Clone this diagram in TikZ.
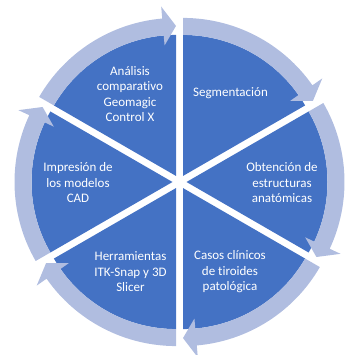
\documentclass[tikz,border=0pt]{standalone}
\usepackage{fontspec}
\setmainfont{Carlito}[Ligatures={NoCommon,NoContextual}]
\definecolor{segdark}{RGB}{68,114,196}
\definecolor{seglight}{RGB}{176,189,224}
\begin{document}
\begin{tikzpicture}[x=1pt,y=1pt,
  lbl/.style={text=white, align=center, font=\fontsize{13}{15.5}\selectfont, inner sep=0pt}]
\useasboundingbox (-179.5,-173) rectangle (171.5,182);
\foreach \s in {150,90,30,-30,-90,-150} {
  \pgfmathsetmacro{\e}{\s-60}
  \pgfmathsetmacro{\b}{\s-30}
  \pgfmathsetmacro{\h}{\s-55}
  \begin{scope}[shift={(\b:7)}]
    \fill[segdark] (0,0) -- (\s:141) arc[start angle=\s, end angle=\e, radius=141] -- cycle;
    \fill[seglight] (\s:141) arc[start angle=\s, end angle=\h, radius=141]
      -- (\h:131) -- (\e:150) -- (\h:170) -- (\h:158)
      arc[start angle=\h, end angle=\s, radius=158] -- cycle;
  \end{scope}
}
\node[lbl] (analisis) at (-49.5,88) {Análisis\\comparativo\\Geomagic\\Control X};
\node[lbl] (segm) at (51,89) {Segmentación};
\node[lbl] (obt) at (102.5,-1) {Obtención de\\estructuras\\anatómicas};
\node[lbl] (casos) at (50.5,-90) {Casos clínicos\\de tiroides\\patológica};
\node[lbl] (herr) at (-49,-90) {Herramientas\\ITK-Snap y 3D\\Slicer};
\node[lbl] (impr) at (-101.5,-1) {Impresión de\\los modelos\\CAD};
\end{tikzpicture}
\end{document}
